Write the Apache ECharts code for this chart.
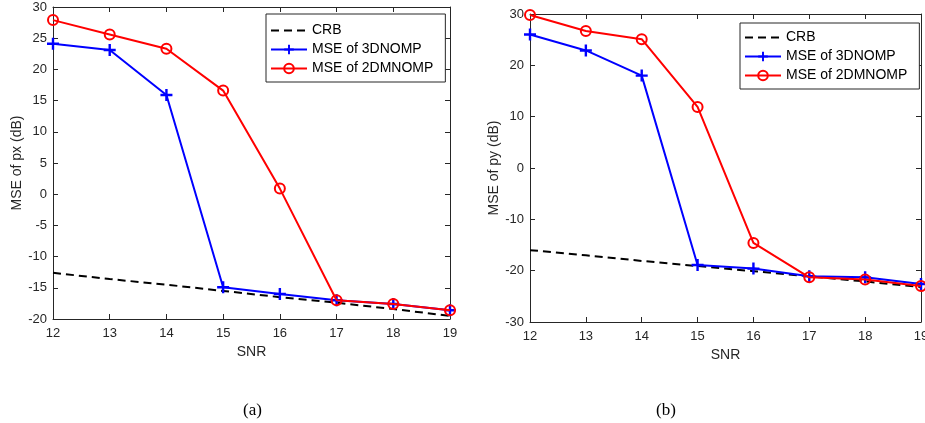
<!DOCTYPE html>
<html>
<head>
<meta charset="utf-8">
<script src="https://cdn.jsdelivr.net/npm/echarts@6/dist/echarts.min.js"></script>
<style>
html, body { margin: 0; padding: 0; background: #ffffff; }
#chart { width: 925px; height: 423px; }
</style>
</head>
<body>
<div id="chart"></div>
<script>
// SNR points shared by both panels
const snr = [12, 13, 14, 15, 16, 17, 18, 19];

// Panel (a): MSE of px (dB)
const crbPx = [-12.6, -13.6, -14.5, -15.5, -16.5, -17.4, -18.4, -19.5];
const nompPx = [24.1, 23.1, 15.9, -14.9, -16.0, -17.0, -17.6, -18.6];
const mnompPx = [27.9, 25.6, 23.3, 16.6, 0.9, -17.0, -17.6, -18.6];

// Panel (b): MSE of py (dB)
const crbPy = [-16.0, -17.0, -18.1, -19.1, -20.1, -21.1, -22.1, -23.2];
const nompPy = [26.0, 22.9, 18.0, -18.9, -19.6, -21.1, -21.3, -22.6];
const mnompPy = [29.8, 26.7, 25.1, 11.9, -14.6, -21.3, -21.7, -23.0];

// Axis tick settings
const xTicks = { min: 12, max: 19, step: 1 };
const yTicksA = { min: -20, max: 30, step: 5 };
const yTicksB = { min: -30, max: 30, step: 10 };

const names = ['CRB', 'MSE of 3DNOMP', 'MSE of 2DMNOMP'];

const AXIS = '#262626';
const FONT = '"Liberation Sans", Arial, sans-serif';
const PLUS = 'path://M4,0 H6 V4 H10 V6 H6 V10 H4 V6 H0 V4 H4 Z';

const pairs = (ys) => snr.map((x, i) => [x, ys[i]]);

function mainX(grid) {
  return {
    type: 'value', gridIndex: grid, min: xTicks.min, max: xTicks.max, interval: xTicks.step,
    name: 'SNR', nameLocation: 'middle', nameGap: 26,
    nameTextStyle: { color: AXIS, fontSize: 14, fontFamily: FONT },
    axisLine: { onZero: false, lineStyle: { color: AXIS, width: 1 } },
    axisTick: { inside: true, length: 5, lineStyle: { color: AXIS } },
    axisLabel: { color: AXIS, fontSize: 13, fontFamily: FONT, margin: 8 },
    splitLine: { show: false }
  };
}
function mirrorX(grid) {
  return {
    type: 'value', gridIndex: grid, position: 'top', min: xTicks.min, max: xTicks.max, interval: xTicks.step,
    axisLine: { onZero: false, lineStyle: { color: AXIS, width: 1 } },
    axisTick: { inside: true, length: 5, lineStyle: { color: AXIS } },
    axisLabel: { show: false }, splitLine: { show: false }
  };
}
function mainY(grid, t, label, gap) {
  return {
    type: 'value', gridIndex: grid, min: t.min, max: t.max, interval: t.step,
    name: label, nameLocation: 'middle', nameGap: gap,
    nameTextStyle: { color: AXIS, fontSize: 14, fontFamily: FONT },
    axisLine: { show: true, onZero: false, lineStyle: { color: AXIS, width: 1 } },
    axisTick: { show: true, inside: true, length: 5, lineStyle: { color: AXIS } },
    axisLabel: { color: AXIS, fontSize: 13, fontFamily: FONT, margin: 6 },
    splitLine: { show: false }
  };
}
function mirrorY(grid, t) {
  return {
    type: 'value', gridIndex: grid, position: 'right', min: t.min, max: t.max, interval: t.step,
    axisLine: { show: true, onZero: false, lineStyle: { color: AXIS, width: 1 } },
    axisTick: { show: true, inside: true, length: 5, lineStyle: { color: AXIS } },
    axisLabel: { show: false }, splitLine: { show: false }
  };
}

function panelSeries(idx, crb, nomp, mnomp) {
  return [
    {
      name: names[0], type: 'line', xAxisIndex: idx * 2, yAxisIndex: idx * 2,
      data: pairs(crb), showSymbol: false, symbol: 'none', color: '#000000',
      lineStyle: { color: '#000000', width: 2, type: [8, 5] }, z: 2
    },
    {
      name: names[1], type: 'line', xAxisIndex: idx * 2, yAxisIndex: idx * 2,
      data: pairs(nomp), symbol: PLUS, symbolSize: 12, color: '#0000ff',
      itemStyle: { color: '#0000ff' },
      lineStyle: { color: '#0000ff', width: 2 }, z: 3
    },
    {
      name: names[2], type: 'line', xAxisIndex: idx * 2, yAxisIndex: idx * 2,
      data: pairs(mnomp), symbol: 'circle', symbolSize: 10, color: '#ff0000',
      itemStyle: { color: 'rgba(255,0,0,0)', borderColor: '#ff0000', borderWidth: 2 },
      lineStyle: { color: '#ff0000', width: 2 }, z: 4
    }
  ];
}

function legendAt(left, top, padTop) {
  return {
    orient: 'vertical', left: left, top: top,
    data: [
      { name: names[0], itemStyle: { opacity: 0 } },
      { name: names[1] },
      { name: names[2] }
    ],
    backgroundColor: '#ffffff', borderColor: AXIS, borderWidth: 1,
    padding: [padTop, 12, 4, 4], itemGap: 0, itemWidth: 36, itemHeight: 12,
    textStyle: { color: '#000000', fontSize: 14, fontFamily: FONT, lineHeight: 19 },
    selectedMode: false
  };
}

const chart = echarts.init(document.getElementById('chart'), null, { renderer: 'canvas' });
chart.setOption({
  animation: false,
  backgroundColor: '#ffffff',
  grid: [
    { left: 53, right: 475, top: 7, bottom: 104, outerBoundsMode: 'none', containLabel: false },
    { left: 530, right: 4, top: 14, bottom: 101, outerBoundsMode: 'none', containLabel: false }
  ],
  xAxis: [mainX(0), mirrorX(0), mainX(1), mirrorX(1)],
  yAxis: [
    mainY(0, yTicksA, 'MSE of px (dB)', 23), mirrorY(0, yTicksA),
    mainY(1, yTicksB, 'MSE of py (dB)', 25), mirrorY(1, yTicksB)
  ],
  legend: [legendAt(266, 14, 7), legendAt(740, 23, 5)],
  series: [].concat(
    panelSeries(0, crbPx, nompPx, mnompPx),
    panelSeries(1, crbPy, nompPy, mnompPy)
  ),
  graphic: [
    { type: 'text', left: 243, top: 402, style: { text: '(a)', fontSize: 17, fontFamily: '"Liberation Serif", "Times New Roman", serif', fill: '#000000' } },
    { type: 'text', left: 656, top: 402, style: { text: '(b)', fontSize: 17, fontFamily: '"Liberation Serif", "Times New Roman", serif', fill: '#000000' } }
  ]
});
</script>
</body>
</html>
